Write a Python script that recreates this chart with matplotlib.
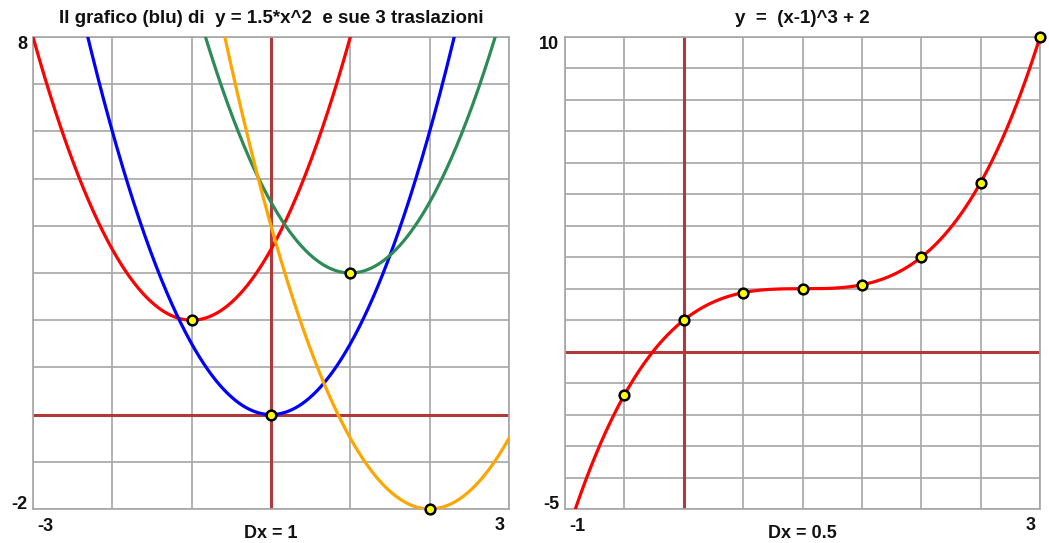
import numpy as np
import matplotlib
matplotlib.use("Agg")
import matplotlib.pyplot as plt

plt.rcParams['font.family'] = ['Liberation Sans', 'DejaVu Sans']

# ---- Left panel data: y = a*(x-h)^2 + k ----
left_a = 1.5
left_h = [-1, 0, 1, 2]          # vertex x of each parabola
left_k = [2, 0, 3, -2]          # vertex y of each parabola
left_colors = ['#ff0000', '#0000ff', '#2e8b57', '#ffa500']
left_xlim = (-3, 3)
left_ylim = (-2, 8)
left_dx = 1
left_dy = 1
left_title = "Il grafico (blu) di  y = 1.5*x^2  e sue 3 traslazioni"
left_labels = {"ymax": "8", "ymin": "-2", "xmin": "-3", "xmax": "3", "dx": "Dx = 1"}

# ---- Right panel data: y = (x-1)^3 + 2 ----
right_shift_x = 1
right_shift_y = 2
right_pts_x = [-0.5, 0, 0.5, 1, 1.5, 2, 2.5, 3]
right_pts_y = [-1.375, 1, 1.875, 2, 2.125, 3, 5.375, 10]
right_xlim = (-1, 3)
right_ylim = (-5, 10)
right_dx = 0.5
right_dy = 1
right_title = "y  =  (x-1)^3 + 2"
right_labels = {"ymax": "10", "ymin": "-5", "xmin": "-1", "xmax": "3", "dx": "Dx = 0.5"}

W, H = 1049, 543
fig = plt.figure(figsize=(W / 100, H / 100), dpi=100)

GRID = '#a6a6a6'
AXC = '#b03a3a'


def px_ax(x0, y0, x1, y1):
    return fig.add_axes([x0 / W, 1 - y1 / H, (x1 - x0) / W, (y1 - y0) / H])


def setup(ax, xlim, ylim, dx, dy):
    ax.set_xlim(*xlim)
    ax.set_ylim(*ylim)
    for x in np.arange(xlim[0], xlim[1] + 1e-9, dx):
        ax.axvline(x, color=GRID, lw=1.2, zorder=1)
    for y in np.arange(ylim[0], ylim[1] + 1e-9, dy):
        ax.axhline(y, color=GRID, lw=1.2, zorder=1)
    ax.axvline(0, color=AXC, lw=2.2, zorder=2)
    ax.axhline(0, color=AXC, lw=2.2, zorder=2)
    ax.set_xticks([])
    ax.set_yticks([])
    for s in ax.spines.values():
        s.set_color(GRID)
        s.set_linewidth(1.2)


def labels(ax, lab, title):
    kw = dict(fontweight='bold', transform=ax.transAxes, color='#111111')
    ax.text(0.5, 1.022, title, ha='center', va='bottom', fontsize=13.5, **kw)
    ax.text(-0.012, 0.985, lab["ymax"], ha='right', va='center', fontsize=13, **kw)
    ax.text(-0.012, 0.010, lab["ymin"], ha='right', va='center', fontsize=13, **kw)
    ax.text(0.008, -0.037, lab["xmin"], ha='left', va='center', fontsize=13, **kw)
    ax.text(0.99, -0.035, lab["xmax"], ha='right', va='center', fontsize=13, **kw)
    ax.text(0.5, -0.052, lab["dx"], ha='center', va='center', fontsize=13, **kw)


# Left panel
axL = px_ax(33, 37, 509, 509)
setup(axL, left_xlim, left_ylim, left_dx, left_dy)
xs = np.linspace(left_xlim[0], left_xlim[1], 600)
for h, k, c in zip(left_h, left_k, left_colors):
    axL.plot(xs, left_a * (xs - h) ** 2 + k, color=c, lw=2.3, zorder=3)
axL.plot(left_h, left_k, 'o', ms=7, mfc='#ffff00', mec='black', mew=1.8,
         zorder=5, clip_on=False, linestyle='none')
labels(axL, left_labels, left_title)

# Right panel
axR = px_ax(565, 37, 1040, 509)
setup(axR, right_xlim, right_ylim, right_dx, right_dy)
xs = np.linspace(right_xlim[0], right_xlim[1], 600)
axR.plot(xs, (xs - right_shift_x) ** 3 + right_shift_y, color='#ff0000', lw=2.3, zorder=3)
axR.plot(right_pts_x, right_pts_y, 'o', ms=7, mfc='#ffff00', mec='black', mew=1.8,
         zorder=5, clip_on=False, linestyle='none')
labels(axR, right_labels, right_title)

fig.savefig('out.png', dpi=100, facecolor='white')
